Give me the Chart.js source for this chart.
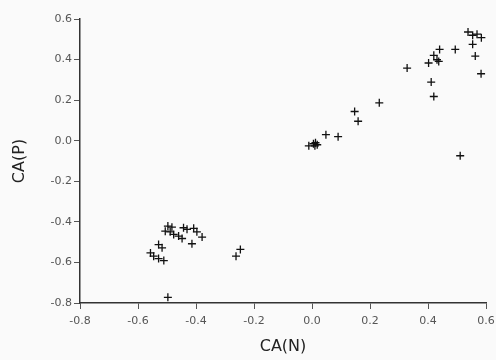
<!DOCTYPE html>
<html>
<head>
<meta charset="utf-8">
<script src="https://cdn.jsdelivr.net/npm/chart.js@4"></script>
<style>
  html, body { margin: 0; padding: 0; background: #fafafa; }
  #wrap { width: 496px; height: 360px; }
</style>
</head>
<body>
<div id="wrap"><canvas id="myChart" width="496" height="360"></canvas></div>
<script>
// CA(N) / CA(P) coordinates
var caN = [-0.011, 0.005, 0.012, 0.018, 0.010, 0.048, 0.090, 0.147, 0.159, 0.232,
           0.328, 0.402, 0.420, 0.440, 0.431, 0.437, 0.411, 0.420, 0.494, 0.538,
           0.554, 0.569, 0.584, 0.554, 0.563, 0.583, 0.511,
           -0.497, -0.483, -0.506, -0.489, -0.477, -0.443, -0.431, -0.408, -0.397, -0.460,
           -0.448, -0.414, -0.379, -0.529, -0.517, -0.557, -0.546, -0.529, -0.511, -0.247,
           -0.262, -0.497]
var caP = [-0.025, -0.015, -0.010, -0.020, -0.025, 0.030, 0.020, 0.144, 0.096, 0.187,
           0.358, 0.383, 0.421, 0.450, 0.399, 0.391, 0.289, 0.218, 0.450, 0.536,
           0.520, 0.525, 0.508, 0.475, 0.417, 0.330, -0.074,
           -0.421, -0.426, -0.446, -0.449, -0.462, -0.429, -0.437, -0.432, -0.449, -0.470,
           -0.482, -0.508, -0.475, -0.512, -0.528, -0.553, -0.569, -0.581, -0.591, -0.536,
           -0.569, -0.772]
var xTitle = 'CA(N)'
var yTitle = 'CA(P)'

var puntos = caN.map(function (x, i) { return { x: x, y: caP[i] } })

var tickFont = { family: 'DejaVu Sans', size: 11 }
var titleFont = { family: 'DejaVu Sans', size: 16 }

// avoid "-0.0" on the zero tick
var etiqueta = function (v) { return Math.abs(v) < 1e-9 ? '0.0' : v.toFixed(1) }

var ctx = document.getElementById('myChart')
var myChart = new Chart(ctx, {
    type: 'scatter',
    data: {
        datasets: [{
            data: puntos,
            pointStyle: 'cross',
            pointRadius: 4,
            borderColor: '#111',
            borderWidth: 1.3
        }]
    },
    options: {
        responsive: false,
        animation: false,
        layout: { padding: { top: 19, right: 0, left: 0, bottom: 0 } },
        plugins: { legend: { display: false }, tooltip: { enabled: false } },
        scales: {
            x: {
                min: -0.8, max: 0.6,
                afterFit: function (s) { s.height = 57; s.paddingRight = 10 },
                border: { display: true, color: '#333', width: 1.5 },
                grid: { drawOnChartArea: false, drawTicks: true, tickLength: 6, color: '#555' },
                ticks: { stepSize: 0.2, color: '#555', font: tickFont, padding: 6, maxRotation: 0,
                    callback: etiqueta },
                title: { display: true, text: xTitle, color: '#222', font: titleFont, padding: { top: 0, bottom: 4 } }
            },
            y: {
                min: -0.8, max: 0.6,
                afterFit: function (s) { s.width = 80 },
                border: { display: true, color: '#333', width: 1.5 },
                grid: { drawOnChartArea: false, drawTicks: true, tickLength: 6, color: '#555' },
                ticks: { stepSize: 0.2, color: '#555', font: tickFont, padding: 2,
                    callback: etiqueta },
                title: { display: true, text: yTitle, color: '#222', font: titleFont, padding: { top: 10, bottom: 0 } }
            }
        }
    }
})
</script>
</body>
</html>
